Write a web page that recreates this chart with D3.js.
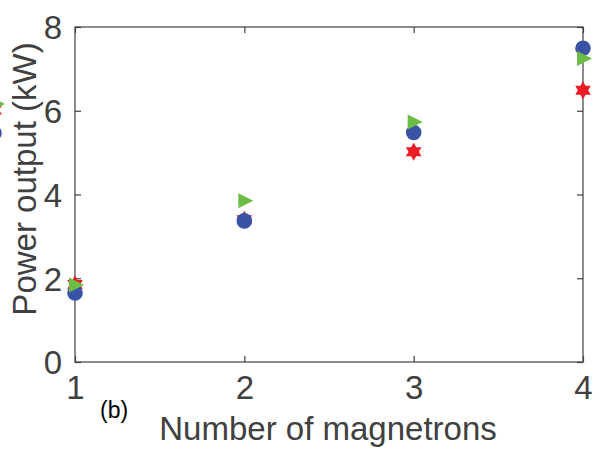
<!DOCTYPE html>
<html><head><meta charset="utf-8">
<script src="https://cdn.jsdelivr.net/npm/d3@7"></script>
<style>body{margin:0;background:#fff}svg{display:block}</style>
</head><body>
<script>
const magnetrons = [1, 2, 3, 4];
const seriesRed = [1.85, 3.40, 5.02, 6.49];   // hexagram
const seriesBlue = [1.65, 3.37, 5.48, 7.49];  // circle
const seriesGreen = [1.84, 3.85, 5.73, 7.25]; // triangle
const yTicks = [0, 2, 4, 6, 8];
const xTicks = [1, 2, 3, 4];

const W = 604, H = 457;
const svg = d3.select("body").append("svg").attr("width", W).attr("height", H);
const L = 75, R = 583, T = 27, B = 362;
const x = d3.scaleLinear().domain([1, 4]).range([L, R]);
const y = d3.scaleLinear().domain([0, 8]).range([B, T]);
const axCol = "#404040";
const font = "'Liberation Sans', Arial, Helvetica, sans-serif";

// box
svg.append("rect").attr("x", L).attr("y", T).attr("width", R - L).attr("height", B - T)
  .attr("fill", "none").attr("stroke", axCol).attr("stroke-width", 1.2);

const yAxis = d3.axisLeft(y).tickValues(yTicks).tickSize(-6).tickPadding(13).tickFormat(d3.format("d"));
const gy = svg.append("g").attr("transform", `translate(${L},0)`).call(yAxis);
const yAxisR = d3.axisRight(y).tickValues(yTicks).tickSize(-6).tickFormat("");
const gyr = svg.append("g").attr("transform", `translate(${R},0)`).call(yAxisR);
const xAxis = d3.axisBottom(x).tickValues(xTicks).tickSize(-6).tickPadding(13).tickFormat(d3.format("d"));
const gx = svg.append("g").attr("transform", `translate(0,${B})`).call(xAxis);
const xAxisT = d3.axisTop(x).tickValues(xTicks).tickSize(-6).tickFormat("");
const gxt = svg.append("g").attr("transform", `translate(0,${T})`).call(xAxisT);
[gy, gyr, gx, gxt].forEach(g => {
  g.select(".domain").remove();
  g.selectAll("line").attr("stroke", axCol).attr("stroke-width", 1.2);
  g.selectAll("text").attr("fill", axCol).attr("font-family", font).attr("font-size", 33);
});
gy.selectAll("text").attr("dy", "0.36em");
gx.selectAll("text").attr("dy", "0.72em");

// axis titles
svg.append("text").attr("transform", `translate(36,179) rotate(-90)`)
  .attr("text-anchor", "middle").attr("font-family", font).attr("font-size", 33)
  .attr("fill", axCol).text("Power output (kW)");
svg.append("text").attr("x", 328).attr("y", 440).attr("text-anchor", "middle")
  .attr("font-family", font).attr("font-size", 33).attr("fill", axCol).text("Number of magnetrons");
svg.append("text").attr("x", 100).attr("y", 418).attr("font-family", font).attr("font-size", 23)
  .attr("fill", "#000").text("(b)");

// markers
function hexagram(r) {
  const pts = [];
  for (let i = 0; i < 12; i++) {
    const a = -Math.PI / 2 + i * Math.PI / 6;
    const rr = i % 2 === 0 ? r : r * 0.577;
    pts.push([rr * Math.cos(a), rr * Math.sin(a)]);
  }
  return "M" + pts.map(p => p.join(",")).join("L") + "Z";
}
const red = "#ec1c24", blue = "#3a53a4", green = "#6cbd45";

const plot = svg.append("g");
plot.selectAll(".red").data(magnetrons).join("path").attr("class", "red")
  .attr("d", hexagram(9)).attr("fill", red)
  .attr("transform", (d, i) => `translate(${x(d)},${y(seriesRed[i])})`);
plot.selectAll(".blue").data(magnetrons).join("circle").attr("class", "blue")
  .attr("cx", d => x(d)).attr("cy", (d, i) => y(seriesBlue[i])).attr("r", 7.8).attr("fill", blue);
plot.selectAll(".green").data(magnetrons).join("path").attr("class", "green")
  .attr("d", "M-6,-7.5L-6,7.5L9,0Z").attr("fill", green)
  .attr("transform", (d, i) => `translate(${x(d)},${y(seriesGreen[i])})`);

// fragments of neighbouring panel at the left edge
svg.append("path").attr("d", "M-10,-7.5L-10,7.5L5,0Z").attr("fill", green).attr("transform", "translate(0,104)");
svg.append("path").attr("d", hexagram(9)).attr("fill", red).attr("transform", "translate(-6,110)").lower();
svg.append("circle").attr("cx", -6).attr("cy", 133).attr("r", 7.8).attr("fill", blue);
</script>
</body></html>
